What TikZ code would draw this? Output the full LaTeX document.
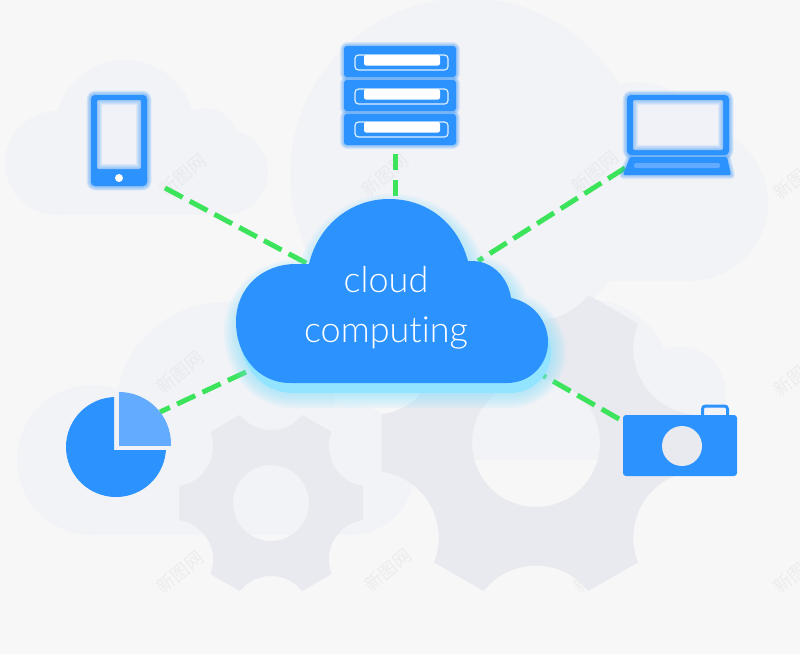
\documentclass[tikz,border=0pt]{standalone}
\usepackage{fontspec}
\setmainfont{Liberation Sans}
\newfontfamily\labelfont{Lato}[UprightFont=* Light,Ligatures=NoCommon]
\newfontfamily\cjkwm{Noto Sans CJK SC}
\usetikzlibrary{calc}
\definecolor{bgc}{HTML}{F7F7F8}
\definecolor{cloudbg}{HTML}{F2F3F7}
\definecolor{gearc}{HTML}{E9EAEF}
\definecolor{blueA}{HTML}{2B92FE}
\definecolor{blueL}{HTML}{62ABFE}
\definecolor{glowC}{HTML}{7FDFFF}
\definecolor{greenD}{HTML}{3BE45B}
\definecolor{screenc}{HTML}{F1F2F7}
\tikzset{
  link/.style={draw=greenD,line width=5pt,dash pattern=on 20pt off 8pt},
  bgcloud/.style={fill=cloudbg,draw=none},
  gearfill/.style={fill=gearc,even odd rule,draw=none},
  iconfill/.style={fill=blueA,draw=none},
  label/.style={text=white,font=\labelfont\fontsize{36}{36}\selectfont,inner sep=0pt,anchor=base},
  wm/.style={text=black!14,opacity=.38,rotate=40,font=\cjkwm\fontsize{18}{18}\selectfont,inner sep=0pt},
}
\newcommand{\softglow}[4]{% colour, max width, opacity, path
  \foreach \k in {1,...,6}{
    \draw[#1,line width=#2*\k/6*1pt,opacity=#3,line join=round] #4;
  }
}
\newcommand{\gearshape}[4]{% cx cy radius hole
  \fill[gearfill]
    ($(#1,#2)+({90-19.5}:#3)$)
    \foreach \a in {90,150,...,390}{
      -- ($(#1,#2)+({\a-19.5}:#3)$)
      .. controls ($(#1,#2)+({\a-12.6}:{0.745*#3})$) and ($(#1,#2)+({\a+12.6}:{0.745*#3})$) .. ($(#1,#2)+({\a+19.5}:#3)$)
    } -- cycle
    (#1,#2) circle[radius=#4];
}
\begin{document}
\begin{tikzpicture}[x=1pt,y=-1pt]
\useasboundingbox (0,0) rectangle (800,654);
\fill[bgc] (0,0) rectangle (800,654);

% background clouds
\fill[bgcloud] (125,130) circle[radius=70];
\fill[bgcloud] (57,163) circle[radius=52] (225,172) circle[radius=43] (205,140) circle[radius=32];
\fill[bgcloud] (57,165) rectangle (225,215);
\fill[bgcloud] (467,175) circle[radius=177];
\fill[bgcloud] (638,150) circle[radius=68];
\fill[bgcloud] (690,203) circle[radius=78];
\fill[bgcloud] (467,200) rectangle (690,281);
\fill[bgcloud] (225,412) circle[radius=110];
\fill[bgcloud] (92,460) circle[radius=75];
\fill[bgcloud] (92,440) rectangle (350,535);
\fill[bgcloud] (350,470) circle[radius=65];
\fill[bgcloud] (680,392) circle[radius=45];
\fill[bgcloud] (590,380) circle[radius=80];
\fill[bgcloud] (470,380) rectangle (725,460);

% watermark
\foreach \p/\q in {183/175,385/175,595/172,797/178,180/372,388/372,595/372,797/375,180/572,388/570,597/572,797/572}{
  \node[wm] at (\p,\q) {新图网};
}

% gears
\gearshape{271}{503}{93.4}{38}
\gearshape{536}{443}{157}{64}

% named connector ends
\coordinate (phoneEnd) at (165,188);
\coordinate (cloudW) at (308,264);
\coordinate (serverEnd) at (395,154);
\coordinate (cloudN) at (395,200);
\coordinate (laptopEnd) at (625,168);
\coordinate (cloudE) at (478,261);
\coordinate (pieEnd) at (160,412);
\coordinate (cloudSW) at (246,372);
\coordinate (cameraEnd) at (619,419);
\coordinate (cloudSE) at (537,372);

\draw[link] (phoneEnd) -- (cloudW);
\draw[link,dash pattern=on 16pt off 10pt] (serverEnd) -- (cloudN);
\draw[link] (laptopEnd) -- (cloudE);
\draw[link] (cloudSW) -- (pieEnd);
\draw[link] (cameraEnd) -- (cloudSE);

% central cloud
\def\cloudshape{(290,383) .. controls (258,383) and (236,355) .. (236,322)
  .. controls (236,288) and (262,264) .. (296,264) -- (309,264)
  .. controls (318,226) and (350,199) .. (389,199)
  .. controls (428,199) and (458,224) .. (468,261) -- (472,261)
  .. controls (492,261) and (508,277) .. (511,298)
  .. controls (532,302) and (548,320) .. (548,342)
  .. controls (548,365) and (530,383) .. (507,383) -- cycle}
\begin{scope}[shift={(3,10)}]
  \softglow{glowC}{30}{.10}{\cloudshape}
  \fill[glowC!85!white] \cloudshape;
\end{scope}
\fill[blueA] \cloudshape;
\node[label] (cloudA) at (386,292) {cloud};
\node[label] (cloudB) at (386,342) {computing};

% phone
\softglow{blueA}{9}{.11}{[rounded corners=4pt] (91,95) rectangle (147,186)}
\fill[iconfill,rounded corners=4pt] (91,95) rectangle (147,186);
\fill[screenc,rounded corners=2pt] (97,100) rectangle (141,169);
\begin{scope}
  \clip[rounded corners=2pt] (97,100) rectangle (141,169);
  \softglow{blueA}{10}{.09}{[rounded corners=2pt] (97,100) rectangle (141,169)}
\end{scope}
\node[circle,fill=white,minimum size=8pt,inner sep=0pt] (phoneBtn) at (119,178) {};

% server
\foreach \t in {46,80,114}{
  \softglow{blueA}{8}{.10}{[rounded corners=3pt] (344,\t) rectangle ++(112,31)}
}
\foreach \t in {46,80,114}{
  \fill[iconfill,rounded corners=3pt] (344,\t) rectangle ++(112,31);
}
\foreach \t in {55,89,122}{
  \draw[white!85!blueA,line width=1.2pt,rounded corners=3.5pt] (355,\t) rectangle ++(93,15);
  \fill[white,rounded corners=2pt] (364,\t) rectangle ++(76,10.5);
}

% laptop
\softglow{blueA}{9}{.11}{[rounded corners=4pt] (627,95) rectangle (729,155)}
\softglow{blueA}{8}{.09}{(630,158) -- (727,158) -- (731,175) -- (623,175) -- cycle}
\fill[iconfill,rounded corners=4pt] (627,95) rectangle (729,155);
\fill[screenc,rounded corners=2pt] (633,100) rectangle (723,150);
\begin{scope}
  \clip[rounded corners=2pt] (633,100) rectangle (723,150);
  \softglow{blueA}{10}{.09}{[rounded corners=2pt] (633,100) rectangle (723,150)}
\end{scope}
\fill[iconfill,rounded corners=1.5pt] (630,157) -- (727,157) -- (731,175) -- (623,175) -- cycle;
\fill[blueL,rounded corners=2pt] (634,163) rectangle (720,168);

% pie
\fill[screenc] (114,392) rectangle (119,450) (114,445) rectangle (166,450);
\begin{scope}
  \clip (50,385) -- (114,385) -- (114,450) -- (180,450) -- (180,510) -- (50,510) -- cycle;
  \fill[blueA] (116,447) circle[radius=50];
\end{scope}
\begin{scope}
  \clip (119,385) rectangle (180,445);
  \fill[blueL] (119,444) circle[radius=52];
\end{scope}

% camera
\draw[blueA,line width=3pt,rounded corners=3pt] (702.5,416) -- (702.5,406) -- (727.5,406) -- (727.5,416);
\fill[iconfill,rounded corners=3pt] (623,415) rectangle (737,476);
\fill[gearc] (682,446) circle[radius=20];
\end{tikzpicture}
\end{document}
